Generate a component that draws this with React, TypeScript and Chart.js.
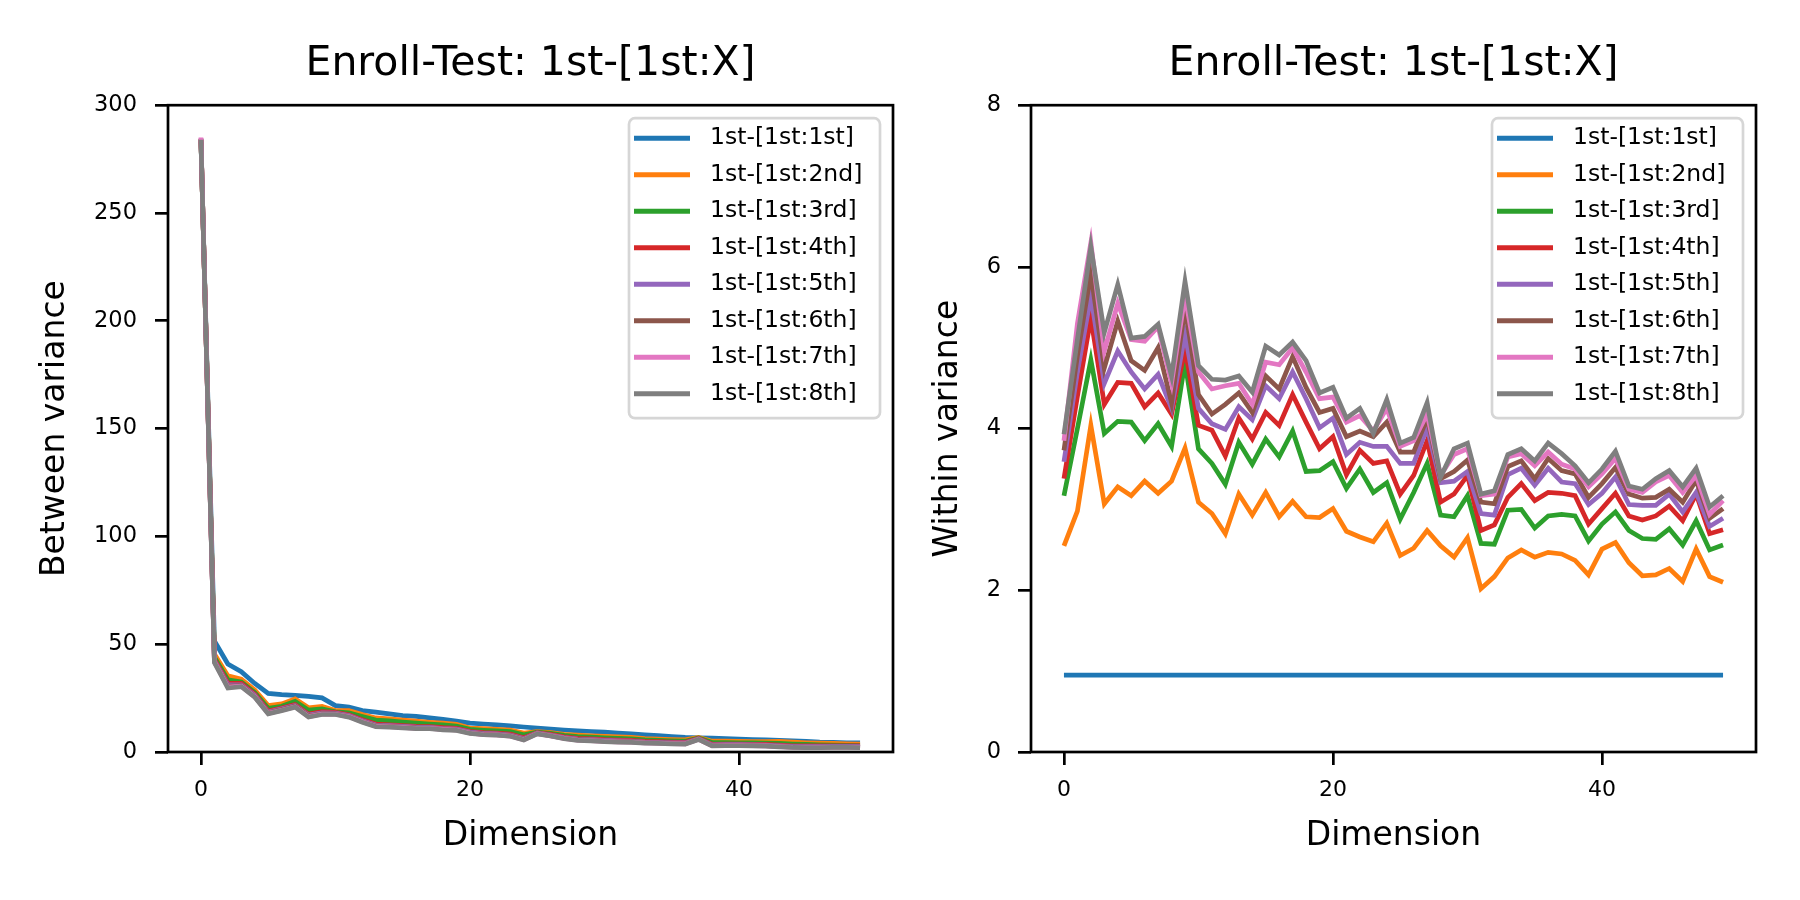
import { useEffect, useRef } from 'react';
import { Chart, registerables } from 'chart.js';

Chart.register(...registerables);

const FONT = 'DejaVu Sans';

// x positions (dimension index) and tick labels
const dimensions = Array.from({ length: 50 }, (_, i) => i);
const xTicks = [0, 20, 40];

const seriesLabels = [
  '1st-[1st:1st]',
  '1st-[1st:2nd]',
  '1st-[1st:3rd]',
  '1st-[1st:4th]',
  '1st-[1st:5th]',
  '1st-[1st:6th]',
  '1st-[1st:7th]',
  '1st-[1st:8th]',
];
const seriesColors = ['#1f77b4', '#ff7f0e', '#2ca02c', '#d62728', '#9467bd', '#8c564b', '#e377c2', '#7f7f7f'];

// Between variance (left panel)
const betweenFirst = [283, 51.5, 40.8, 37.2, 31.8, 27.2, 26.6, 26.3, 25.8, 25.1, 21.5, 20.8, 19.2, 18.5, 17.7, 16.9, 16.5, 15.8, 15.1, 14.3, 13.4, 13.0, 12.6, 12.1, 11.6, 11.1, 10.6, 10.2, 9.8, 9.5, 9.2, 8.8, 8.4, 8.0, 7.6, 7.2, 6.8, 6.6, 6.4, 6.2, 6.0, 5.8, 5.6, 5.4, 5.2, 4.9, 4.6, 4.5, 4.3, 4.2];
const betweenSecond = [284, 45.4, 35.4, 33.8, 28.8, 21.5, 22.3, 24.6, 20.5, 21.1, 19.2, 19.2, 17.4, 15.8, 15.4, 14.8, 14.3, 13.8, 13.4, 12.8, 11.1, 10.8, 10.5, 10.2, 8.8, 9.5, 9.0, 8.2, 7.8, 7.5, 7.3, 7.0, 6.8, 6.2, 6.0, 5.8, 5.6, 6.8, 5.0, 5.0, 4.9, 4.8, 4.8, 4.9, 4.6, 4.3, 4.1, 4.0, 3.8, 3.7];
const betweenThird = [284, 44.0, 33.5, 32.5, 27.6, 20.3, 21.2, 23.5, 19.4, 20.0, 18.6, 18.2, 16.5, 14.8, 14.4, 13.9, 13.4, 13.0, 12.6, 12.0, 10.5, 10.1, 9.8, 9.5, 8.0, 9.2, 8.6, 7.7, 7.2, 6.9, 6.6, 6.3, 6.1, 5.6, 5.4, 5.2, 5.0, 6.5, 4.4, 4.4, 4.3, 4.2, 4.1, 4.0, 3.7, 3.5, 3.3, 3.2, 3.1, 3.0];
const betweenFourth = [284, 43.0, 32.0, 31.8, 26.8, 19.0, 20.4, 22.0, 17.6, 18.7, 18.4, 17.3, 15.0, 13.0, 12.6, 12.3, 11.9, 11.8, 11.3, 11.0, 9.6, 9.0, 8.8, 8.3, 6.6, 9.0, 8.2, 7.0, 6.3, 6.1, 5.7, 5.5, 5.4, 4.9, 4.8, 4.6, 4.5, 6.3, 3.6, 3.7, 3.7, 3.6, 3.5, 3.2, 2.9, 2.8, 2.8, 2.9, 2.9, 2.8];
const betweenFifth = [284.5, 42.4, 31.2, 31.2, 26.3, 18.5, 20.0, 21.6, 17.1, 18.2, 18.0, 16.9, 14.5, 12.5, 12.2, 11.9, 11.5, 11.4, 10.9, 10.6, 9.2, 8.6, 8.4, 7.9, 6.2, 8.8, 7.9, 6.7, 6.0, 5.8, 5.4, 5.2, 5.1, 4.6, 4.5, 4.3, 4.2, 6.1, 3.3, 3.4, 3.4, 3.3, 3.2, 2.9, 2.6, 2.5, 2.5, 2.6, 2.6, 2.5];
const betweenSixth = [284.5, 42.0, 30.6, 30.8, 25.9, 18.2, 19.7, 21.3, 16.7, 17.8, 17.7, 16.6, 14.2, 12.2, 11.9, 11.6, 11.2, 11.1, 10.6, 10.3, 8.9, 8.3, 8.1, 7.6, 5.9, 8.6, 7.6, 6.4, 5.7, 5.5, 5.1, 4.9, 4.8, 4.4, 4.2, 4.0, 3.9, 6.0, 3.0, 3.1, 3.1, 3.0, 2.9, 2.6, 2.3, 2.2, 2.2, 2.3, 2.3, 2.2];
const betweenSeventh = [285, 41.8, 30.1, 30.5, 25.6, 17.9, 19.4, 21.0, 16.4, 17.6, 17.5, 16.4, 14.0, 12.0, 11.7, 11.4, 11.0, 11.0, 10.5, 10.2, 8.8, 8.1, 7.9, 7.4, 5.7, 8.5, 7.5, 6.3, 5.5, 5.3, 4.9, 4.7, 4.6, 4.2, 4.1, 3.9, 3.8, 5.9, 2.9, 3.0, 3.0, 2.9, 2.8, 2.5, 2.2, 2.1, 2.1, 2.2, 2.2, 2.1];
const betweenEighth = [284, 41.5, 29.7, 30.3, 25.4, 17.7, 19.2, 20.8, 16.2, 17.4, 17.4, 16.2, 13.8, 11.8, 11.5, 11.2, 10.8, 10.8, 10.3, 10.0, 8.6, 8.0, 7.8, 7.3, 5.6, 8.4, 7.4, 6.2, 5.4, 5.2, 4.8, 4.6, 4.5, 4.1, 4.0, 3.8, 3.7, 5.8, 2.8, 2.9, 2.9, 2.8, 2.7, 2.4, 2.1, 2.0, 2.0, 2.1, 2.1, 2.0];

// Within variance (right panel)
const withinFirst = [0.95, 0.95, 0.95, 0.95, 0.95, 0.95, 0.95, 0.95, 0.95, 0.95, 0.95, 0.95, 0.95, 0.95, 0.95, 0.95, 0.95, 0.95, 0.95, 0.95, 0.95, 0.95, 0.95, 0.95, 0.95, 0.95, 0.95, 0.95, 0.95, 0.95, 0.95, 0.95, 0.95, 0.95, 0.95, 0.95, 0.95, 0.95, 0.95, 0.95, 0.95, 0.95, 0.95, 0.95, 0.95, 0.95, 0.95, 0.95, 0.95, 0.95];
const withinSecond = [2.55, 2.98, 4.04, 3.07, 3.28, 3.17, 3.35, 3.20, 3.35, 3.76, 3.09, 2.95, 2.70, 3.19, 2.93, 3.21, 2.91, 3.10, 2.91, 2.90, 3.01, 2.73, 2.66, 2.60, 2.83, 2.43, 2.52, 2.74, 2.55, 2.41, 2.65, 2.02, 2.17, 2.40, 2.50, 2.41, 2.47, 2.45, 2.37, 2.19, 2.51, 2.59, 2.34, 2.18, 2.19, 2.27, 2.11, 2.51, 2.17, 2.10];
const withinThird = [3.17, 4.00, 4.85, 3.94, 4.09, 4.08, 3.85, 4.06, 3.78, 4.82, 3.75, 3.57, 3.31, 3.83, 3.56, 3.87, 3.65, 3.97, 3.47, 3.48, 3.59, 3.26, 3.50, 3.21, 3.33, 2.88, 3.21, 3.57, 2.93, 2.91, 3.17, 2.58, 2.57, 2.99, 3.00, 2.77, 2.92, 2.94, 2.92, 2.61, 2.82, 2.97, 2.74, 2.64, 2.63, 2.76, 2.56, 2.86, 2.50, 2.56];
const withinFourth = [3.38, 4.40, 5.37, 4.30, 4.57, 4.56, 4.27, 4.44, 4.18, 4.98, 4.04, 3.98, 3.66, 4.13, 3.87, 4.20, 4.04, 4.42, 4.08, 3.75, 3.90, 3.43, 3.73, 3.57, 3.60, 3.19, 3.42, 3.85, 3.09, 3.19, 3.42, 2.74, 2.81, 3.15, 3.32, 3.11, 3.21, 3.20, 3.17, 2.82, 3.01, 3.20, 2.92, 2.87, 2.92, 3.04, 2.86, 3.19, 2.70, 2.75];
const withinFifth = [3.59, 4.70, 5.64, 4.56, 4.96, 4.70, 4.49, 4.67, 4.25, 5.17, 4.25, 4.06, 3.99, 4.27, 4.11, 4.53, 4.37, 4.70, 4.37, 4.01, 4.13, 3.68, 3.83, 3.78, 3.78, 3.57, 3.57, 4.01, 3.33, 3.35, 3.47, 2.95, 2.93, 3.43, 3.51, 3.30, 3.51, 3.34, 3.32, 3.06, 3.20, 3.40, 3.06, 3.05, 3.05, 3.19, 2.97, 3.21, 2.79, 2.89];
const withinSixth = [3.73, 4.90, 5.92, 4.75, 5.33, 4.84, 4.72, 5.00, 4.32, 5.50, 4.42, 4.18, 4.30, 4.44, 4.20, 4.65, 4.49, 4.89, 4.51, 4.20, 4.25, 3.90, 3.97, 3.90, 4.08, 3.71, 3.71, 4.13, 3.38, 3.47, 3.61, 3.09, 3.07, 3.53, 3.60, 3.38, 3.63, 3.48, 3.44, 3.15, 3.32, 3.52, 3.19, 3.14, 3.15, 3.25, 3.09, 3.36, 2.89, 3.01];
const withinSeventh = [3.85, 5.30, 6.30, 4.96, 5.55, 5.10, 5.08, 5.26, 4.56, 5.64, 4.70, 4.49, 4.53, 4.56, 4.30, 4.82, 4.79, 5.00, 4.70, 4.37, 4.39, 4.08, 4.16, 3.97, 4.25, 3.78, 3.85, 4.18, 3.42, 3.68, 3.75, 3.17, 3.19, 3.65, 3.69, 3.54, 3.71, 3.56, 3.50, 3.28, 3.44, 3.63, 3.25, 3.21, 3.34, 3.42, 3.21, 3.42, 2.94, 3.11];
const withinEighth = [3.93, 5.10, 6.25, 5.19, 5.78, 5.12, 5.14, 5.29, 4.65, 5.82, 4.78, 4.61, 4.60, 4.65, 4.45, 5.02, 4.91, 5.07, 4.84, 4.44, 4.51, 4.13, 4.25, 3.94, 4.36, 3.82, 3.89, 4.32, 3.40, 3.75, 3.82, 3.19, 3.23, 3.68, 3.75, 3.60, 3.82, 3.69, 3.54, 3.33, 3.50, 3.72, 3.29, 3.25, 3.38, 3.48, 3.28, 3.51, 3.03, 3.17];

const betweenSeries = [betweenFirst, betweenSecond, betweenThird, betweenFourth, betweenFifth, betweenSixth, betweenSeventh, betweenEighth];
const withinSeries = [withinFirst, withinSecond, withinThird, withinFourth, withinFifth, withinSixth, withinSeventh, withinEighth];

// draws the four spines and a matplotlib-style legend in the upper right
const frameAndLegend = {
  id: 'frameAndLegend',
  afterDraw(chart: Chart) {
    const { ctx, chartArea } = chart;
    const { left, top, right, bottom } = chartArea;
    ctx.save();
    ctx.strokeStyle = '#000';
    ctx.lineWidth = 2.7;
    ctx.strokeRect(left, top, right - left, bottom - top);

    const boxW = 251;
    const boxH = 300;
    const bx = right - 13 - boxW;
    const by = top + 13;
    ctx.beginPath();
    ctx.roundRect(bx, by, boxW, boxH, 6);
    ctx.fillStyle = 'rgba(255,255,255,0.8)';
    ctx.fill();
    ctx.strokeStyle = '#d6d6d6';
    ctx.lineWidth = 2.7;
    ctx.stroke();

    ctx.font = `23.5px "${FONT}"`;
    ctx.textBaseline = 'middle';
    ctx.textAlign = 'left';
    chart.data.datasets.forEach((ds, i) => {
      const y = by + 20 + i * 36.5;
      ctx.strokeStyle = ds.borderColor as string;
      ctx.lineWidth = 5;
      ctx.beginPath();
      ctx.moveTo(bx + 5, y);
      ctx.lineTo(bx + 61, y);
      ctx.stroke();
      ctx.fillStyle = '#000';
      ctx.fillText(ds.label as string, bx + 81, y);
    });
    ctx.restore();
  },
};

type PanelProps = {
  x: number;
  series: number[][];
  yTitle: string;
  yMax: number;
  yStep: number;
  yAxisWidth: number;
  yTitlePad: number;
  yTickPad: number;
  rightPad: number;
};

function VariancePanel({ x, series, yTitle, yMax, yStep, yAxisWidth, yTitlePad, yTickPad, rightPad }: PanelProps) {
  const chartRef = useRef<HTMLCanvasElement>(null);
  const chartInstance = useRef<Chart | null>(null);

  useEffect(() => {
    if (!chartRef.current) return;
    if (chartInstance.current) chartInstance.current.destroy();

    const tickGrid = {
      drawOnChartArea: false,
      drawTicks: true,
      tickLength: 13,
      tickWidth: 2.7,
      tickColor: '#000',
      color: '#000',
      lineWidth: 2.7,
    };

    chartInstance.current = new Chart(chartRef.current, {
      type: 'line',
      data: {
        datasets: series.map((values, i) => ({
          label: seriesLabels[i],
          data: values.map((v, j) => ({ x: dimensions[j], y: v })),
          borderColor: seriesColors[i],
          backgroundColor: seriesColors[i],
          borderWidth: 4.7,
          pointRadius: 0,
          tension: 0,
          fill: false,
          order: series.length - i,
        })),
      },
      options: {
        responsive: false,
        animation: false,
        devicePixelRatio: 1,
        layout: { padding: { left: 0, top: 0, right: rightPad, bottom: 0 } },
        plugins: {
          legend: { display: false },
          tooltip: { enabled: false },
          title: {
            display: true,
            text: 'Enroll-Test: 1st-[1st:X]',
            color: '#000',
            fullSize: false,
            font: { family: FONT, size: 41, weight: 'normal' },
            padding: { top: 40, bottom: 16 },
          },
        },
        scales: {
          x: {
            type: 'linear',
            min: -2.45,
            max: 51.45,
            afterBuildTicks: (scale) => {
              scale.ticks = xTicks.map((value) => ({ value }));
            },
            afterFit: (scale) => {
              scale.height = 148;
            },
            grid: tickGrid,
            border: { display: false },
            ticks: {
              color: '#000',
              padding: 12,
              maxRotation: 0,
              font: { family: FONT, size: 22 },
              callback: (value) => String(value),
            },
            title: {
              display: true,
              text: 'Dimension',
              color: '#000',
              font: { family: FONT, size: 33 },
              padding: { top: 0, bottom: 44 },
            },
          },
          y: {
            type: 'linear',
            min: 0,
            max: yMax,
            afterFit: (scale) => {
              scale.width = yAxisWidth;
            },
            grid: tickGrid,
            border: { display: false },
            ticks: {
              color: '#000',
              stepSize: yStep,
              padding: yTickPad,
              font: { family: FONT, size: 22.5 },
            },
            title: {
              display: true,
              text: yTitle,
              color: '#000',
              font: { family: FONT, size: 33 },
              padding: { top: yTitlePad, bottom: 0 },
            },
          },
        },
      },
      plugins: [frameAndLegend],
    });

    return () => {
      if (chartInstance.current) {
        chartInstance.current.destroy();
        chartInstance.current = null;
      }
    };
  }, [series, yTitle, yMax, yStep, yAxisWidth, yTitlePad, yTickPad, rightPad]);

  return (
    <canvas
      ref={chartRef}
      width={900}
      height={900}
      style={{ position: 'absolute', left: x, top: 0, width: 900, height: 900 }}
    />
  );
}

export default function App() {
  return (
    <div style={{ position: 'fixed', left: 0, top: 0, width: 1800, height: 900, background: '#fff' }}>
      <VariancePanel
        x={0}
        series={betweenSeries}
        yTitle="Between variance"
        yMax={300}
        yStep={50}
        yAxisWidth={168}
        yTitlePad={36}
        yTickPad={18}
        rightPad={7}
      />
      <VariancePanel
        x={900}
        series={withinSeries}
        yTitle="Within variance"
        yMax={8}
        yStep={2}
        yAxisWidth={131}
        yTitlePad={29}
        yTickPad={17}
        rightPad={44}
      />
    </div>
  );
}
